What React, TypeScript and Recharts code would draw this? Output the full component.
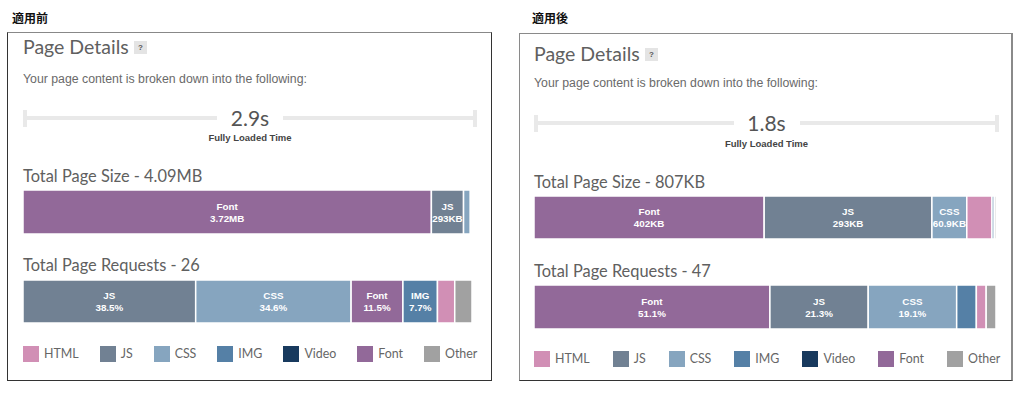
import React from 'react'
import { BarChart, Bar, XAxis, YAxis } from 'recharts'

// content types, legend order
const typeNames = ['HTML', 'JS', 'CSS', 'IMG', 'Video', 'Font', 'Other']
const typeColors = ['#d18fb5', '#718193', '#86a5bf', '#5580a6', '#183a5e', '#926999', '#a1a1a1']

// 適用前
const beforeLoadTime = '2.9s'
const beforeSizeTypes = ['Font', 'JS', 'CSS', 'HTML', 'IMG']
const beforeSizeKB = [3720, 293, 62, 10, 5]
const beforeRequestTypes = ['JS', 'CSS', 'Font', 'IMG', 'HTML', 'Other']
const beforeRequests = [10, 9, 3, 2, 1, 1]

// 適用後
const afterLoadTime = '1.8s'
const afterSizeTypes = ['Font', 'JS', 'CSS', 'HTML', 'IMG', 'Other']
const afterSizeKB = [402, 293, 60.9, 44, 4, 3]
const afterRequestTypes = ['Font', 'JS', 'CSS', 'IMG', 'HTML', 'Other']
const afterRequests = [24, 10, 9, 2, 1, 1]

const colorOf = (t: string) => typeColors[typeNames.indexOf(t)]

const fmtSize = (kb: number) => {
  if (kb >= 1000) return (kb / 1000).toFixed(2) + 'MB'
  if (kb < 100) return kb.toFixed(1) + 'KB'
  return Math.round(kb) + 'KB'
}

const sum = (a: number[]) => a.reduce((s, v) => s + v, 0)

const HEAD = 'Lato, "Open Sans", sans-serif'
const BODY = '"Liberation Sans", Arial, sans-serif'

interface StackBarProps {
  types: string[]
  values: number[]
  labels: string[]
  width: number
  height: number
}

function StackBar({ types, values, labels, width, height }: StackBarProps) {
  const total = sum(values)
  const row: Record<string, any> = { name: 'row' }
  types.forEach((t, i) => (row[t] = values[i]))

  // label only on segments that are wide enough
  const makeLabel = (name: string, text: string, show: boolean) => (props: any) => {
    if (!show) return null
    const { x, y, width: w, height: h } = props
    const cx = x + w / 2
    const cy = y + h / 2
    return (
      <g>
        <text x={cx} y={cy - 6} textAnchor="middle" dominantBaseline="central" fill="#fff"
          fontFamily={BODY} fontWeight="bold" fontSize={9.8}>{name}</text>
        <text x={cx} y={cy + 6} textAnchor="middle" dominantBaseline="central" fill="#fff"
          fontFamily={BODY} fontWeight="bold" fontSize={9.8}>{text}</text>
      </g>
    )
  }

  return (
    <BarChart layout="vertical" width={width} height={height} data={[row]}
      margin={{ top: 0, right: 0, bottom: 0, left: 0 }} barCategoryGap={0} style={{ overflow: 'visible' }}>
      <XAxis type="number" hide domain={[0, total]} />
      <YAxis type="category" dataKey="name" hide />
      {types.map((t, i) => (
        <Bar key={t} dataKey={t} stackId="s" fill={colorOf(t)} stroke="#fff" strokeWidth={1.5}
          isAnimationActive={false} label={makeLabel(t, labels[i], values[i] / total >= 0.06)} />
      ))}
    </BarChart>
  )
}

interface PanelGeo {
  heading: string
  headX: number
  box: { left: number; top: number; width: number; height: number }
  border: React.CSSProperties
  x: number
  lineEnd: number
  titleY: number
  helpX: number
  subY: number
  timeY: number
  fltY: number
  sizeTitleY: number
  bar1Y: number
  bar1H: number
  reqTitleY: number
  bar2Y: number
  bar2H: number
  barW: number
  legendY: number
  legendGap: number
}

interface PanelData {
  loadTime: string
  sizeTypes: string[]
  sizeKB: number[]
  reqTypes: string[]
  reqs: number[]
}

const abs = (left: number, top: number, extra: React.CSSProperties = {}): React.CSSProperties => ({
  position: 'absolute', left, top, ...extra,
})

function Panel({ g, d }: { g: PanelGeo; d: PanelData }) {
  const totalKB = sum(d.sizeKB)
  const totalReq = sum(d.reqs)
  const sizeLabels = d.sizeKB.map(fmtSize)
  const reqLabels = d.reqs.map((v) => ((v / totalReq) * 100).toFixed(1) + '%')
  const midX = (g.x + g.lineEnd) / 2
  return (
    <>
      <div style={abs(g.headX, 10, { fontFamily: '"Noto Sans CJK JP", sans-serif', fontWeight: 'bold', fontSize: 12, lineHeight: '16px', color: '#111' })}>
        {g.heading}
      </div>
      <div style={abs(g.box.left, g.box.top, { width: g.box.width, height: g.box.height, boxSizing: 'border-box', ...g.border })} />

      <div style={abs(g.x, g.titleY - 12, { fontFamily: HEAD, fontSize: 19.5, lineHeight: '24px', color: '#606060' })}>
        Page Details
      </div>
      <div style={abs(g.helpX, g.titleY - 6, { width: 13, height: 13, background: '#e4e4e4', color: '#555', fontFamily: BODY, fontWeight: 'bold', fontSize: 8, lineHeight: '13px', textAlign: 'center' })}>
        ?
      </div>
      <div style={abs(g.x, g.subY - 8, { fontFamily: BODY, fontSize: 12.3, lineHeight: '16px', color: '#6a6a6a', whiteSpace: 'nowrap' })}>
        Your page content is broken down into the following:
      </div>

      {/* fully loaded time rule */}
      <div style={abs(g.x, g.timeY - 2, { width: g.lineEnd - g.x, height: 4, background: '#e9e9e9' })} />
      <div style={abs(g.x, g.timeY - 8, { width: 4, height: 17, background: '#e9e9e9' })} />
      <div style={abs(g.lineEnd - 4, g.timeY - 8, { width: 4, height: 17, background: '#e9e9e9' })} />
      <div style={abs(midX - 33, g.timeY - 13, { width: 66, background: '#fff', textAlign: 'center', fontFamily: HEAD, fontSize: 21, lineHeight: '26px', color: '#555' })}>
        {d.loadTime}
      </div>
      <div style={abs(midX - 60, g.fltY - 7, { width: 120, textAlign: 'center', fontFamily: BODY, fontWeight: 'bold', fontSize: 9.5, lineHeight: '14px', color: '#444' })}>
        Fully Loaded Time
      </div>

      <div style={abs(g.x, g.sizeTitleY - 11, { fontFamily: HEAD, fontSize: 16.4, lineHeight: '21px', color: '#606060', whiteSpace: 'nowrap' })}>
        Total Page Size - {fmtSize(totalKB)}
      </div>
      <div style={abs(g.x, g.bar1Y)}>
        <StackBar types={d.sizeTypes} values={d.sizeKB} labels={sizeLabels} width={g.barW} height={g.bar1H} />
      </div>

      <div style={abs(g.x, g.reqTitleY - 11, { fontFamily: HEAD, fontSize: 16.4, lineHeight: '21px', color: '#606060', whiteSpace: 'nowrap' })}>
        Total Page Requests - {totalReq}
      </div>
      <div style={abs(g.x, g.bar2Y)}>
        <StackBar types={d.reqTypes} values={d.reqs} labels={reqLabels} width={g.barW} height={g.bar2H} />
      </div>

      <div style={abs(g.x, g.legendY, { display: 'flex', alignItems: 'center', gap: g.legendGap })}>
        {typeNames.map((t, i) => (
          <div key={t} style={{ display: 'flex', alignItems: 'center' }}>
            <div style={{ width: 16, height: 16, background: typeColors[i], marginRight: 5 }} />
            <span style={{ fontFamily: HEAD, fontSize: 12.4, lineHeight: '16px', color: '#666' }}>{t}</span>
          </div>
        ))}
      </div>
    </>
  )
}

const leftGeo: PanelGeo = {
  heading: '適用前', headX: 12,
  box: { left: 7, top: 32, width: 485, height: 349 },
  border: { borderStyle: 'solid', borderWidth: 1, borderColor: '#888 #333 #333 #333' },
  x: 23, lineEnd: 477, titleY: 47, helpX: 134, subY: 79, timeY: 118, fltY: 138,
  sizeTitleY: 176, bar1Y: 190, bar1H: 44, reqTitleY: 265, bar2Y: 280, bar2H: 43,
  barW: 449, legendY: 346, legendGap: 21,
}

const rightGeo: PanelGeo = {
  heading: '適用後', headX: 532,
  box: { left: 519, top: 33, width: 494, height: 348 },
  border: { borderStyle: 'solid', borderWidth: '1px 2px 1px 1px', borderColor: '#8a8a8a #8a8a8a #333 #8a8a8a' },
  x: 534, lineEnd: 999, titleY: 53.5, helpX: 645, subY: 83, timeY: 123, fltY: 144,
  sizeTitleY: 182, bar1Y: 196, bar1H: 43, reqTitleY: 271, bar2Y: 285, bar2H: 44,
  barW: 462, legendY: 351, legendGap: 23,
}

export default function App() {
  return (
    <div style={{ position: 'absolute', left: 0, top: 0, width: 1024, height: 396, background: '#fff', overflow: 'hidden' }}>
      <Panel g={leftGeo} d={{ loadTime: beforeLoadTime, sizeTypes: beforeSizeTypes, sizeKB: beforeSizeKB, reqTypes: beforeRequestTypes, reqs: beforeRequests }} />
      <Panel g={rightGeo} d={{ loadTime: afterLoadTime, sizeTypes: afterSizeTypes, sizeKB: afterSizeKB, reqTypes: afterRequestTypes, reqs: afterRequests }} />
    </div>
  )
}
